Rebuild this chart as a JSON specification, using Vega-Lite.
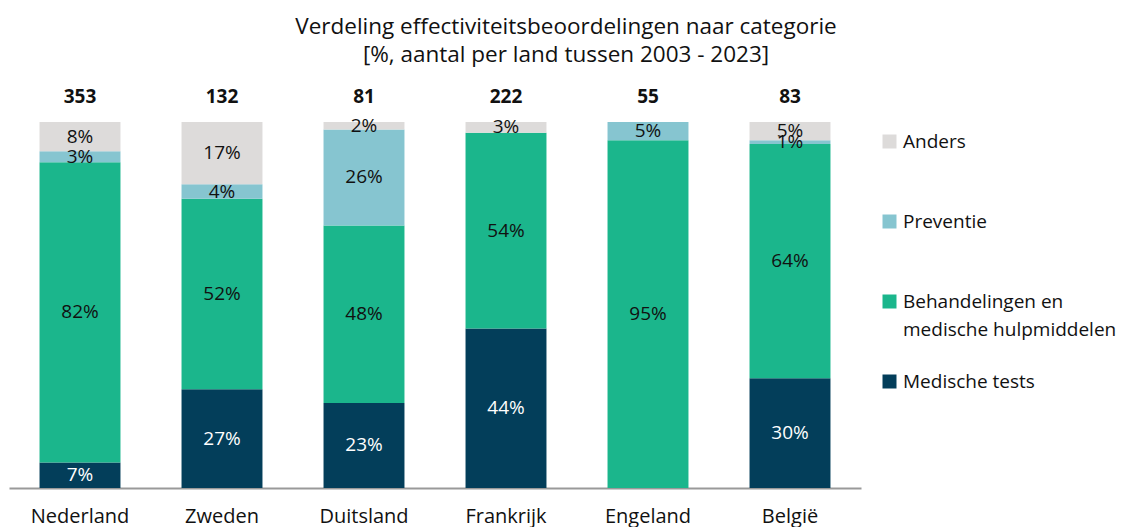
{
  "$schema": "https://vega.github.io/schema/vega-lite/v6.json",
  "autosize": {"type": "none"},
  "width": 852,
  "height": 366,
  "padding": {"left": 9, "top": 122, "right": 277, "bottom": 39},
  "background": "white",
  "config": {
    "font": "Open Sans",
    "view": {"stroke": null}
  },
  "title": {
    "text": ["Verdeling effectiviteitsbeoordelingen naar categorie", "[%, aantal per land tussen 2003 - 2023]"],
    "fontSize": 22.5,
    "fontWeight": "normal",
    "color": "#111111",
    "lineHeight": 28,
    "offset": 22,
    "anchor": "middle",
    "dx": 131
  },
  "datasets": {
    "shares": [
      {"land": "Nederland", "categorie": "Medische tests", "orde": 1, "pct": 7},
      {"land": "Nederland", "categorie": "Behandelingen en medische hulpmiddelen", "orde": 2, "pct": 82},
      {"land": "Nederland", "categorie": "Preventie", "orde": 3, "pct": 3},
      {"land": "Nederland", "categorie": "Anders", "orde": 4, "pct": 8},
      {"land": "Zweden", "categorie": "Medische tests", "orde": 1, "pct": 27},
      {"land": "Zweden", "categorie": "Behandelingen en medische hulpmiddelen", "orde": 2, "pct": 52},
      {"land": "Zweden", "categorie": "Preventie", "orde": 3, "pct": 4},
      {"land": "Zweden", "categorie": "Anders", "orde": 4, "pct": 17},
      {"land": "Duitsland", "categorie": "Medische tests", "orde": 1, "pct": 23},
      {"land": "Duitsland", "categorie": "Behandelingen en medische hulpmiddelen", "orde": 2, "pct": 48},
      {"land": "Duitsland", "categorie": "Preventie", "orde": 3, "pct": 26},
      {"land": "Duitsland", "categorie": "Anders", "orde": 4, "pct": 2},
      {"land": "Frankrijk", "categorie": "Medische tests", "orde": 1, "pct": 44},
      {"land": "Frankrijk", "categorie": "Behandelingen en medische hulpmiddelen", "orde": 2, "pct": 54},
      {"land": "Frankrijk", "categorie": "Anders", "orde": 4, "pct": 3},
      {"land": "Engeland", "categorie": "Behandelingen en medische hulpmiddelen", "orde": 2, "pct": 95},
      {"land": "Engeland", "categorie": "Preventie", "orde": 3, "pct": 5},
      {"land": "België", "categorie": "Medische tests", "orde": 1, "pct": 30},
      {"land": "België", "categorie": "Behandelingen en medische hulpmiddelen", "orde": 2, "pct": 64},
      {"land": "België", "categorie": "Preventie", "orde": 3, "pct": 1},
      {"land": "België", "categorie": "Anders", "orde": 4, "pct": 5}
    ],
    "totals": [
      {"land": "Nederland", "aantal": 353},
      {"land": "Zweden", "aantal": 132},
      {"land": "Duitsland", "aantal": 81},
      {"land": "Frankrijk", "aantal": 222},
      {"land": "Engeland", "aantal": 55},
      {"land": "België", "aantal": 83}
    ]
  },
  "layer": [
    {
      "data": {"name": "shares"},
      "mark": {"type": "bar"},
      "encoding": {
        "x": {
          "field": "land", "type": "nominal",
          "sort": ["Nederland", "Zweden", "Duitsland", "Frankrijk", "Engeland", "België"],
          "scale": {"paddingInner": 0.43, "paddingOuter": 0.215},
          "axis": {
            "title": null, "labelAngle": 0, "labelFontSize": 20, "labelColor": "#111111",
            "ticks": false, "labelPadding": 18, "domainColor": "#999999", "domainWidth": 2
          }
        },
        "y": {
          "field": "pct", "type": "quantitative", "stack": "normalize",
          "scale": {"domain": [0, 1]},
          "axis": null
        },
        "order": {"field": "orde", "type": "quantitative", "sort": "ascending"},
        "color": {
          "field": "categorie", "type": "nominal",
          "scale": {
            "domain": ["Anders", "Preventie", "Behandelingen en medische hulpmiddelen", "Medische tests"],
            "range": ["#dddbda", "#86c5d0", "#1bb68c", "#033e5a"]
          },
          "legend": {
            "title": null,
            "orient": "none",
            "legendX": 871,
            "legendY": 10,
            "symbolType": "square",
            "symbolSize": 196,
            "symbolStrokeWidth": 0,
            "labelFontSize": 19,
            "labelColor": "#111111",
            "labelLimit": 300,
            "rowPadding": 32,
            "labelExpr": "datum.label == 'Behandelingen en medische hulpmiddelen' ? ['Behandelingen en', 'medische hulpmiddelen'] : [datum.label, '']",
            "encode": {"labels": {"update": {"lineHeight": {"value": 28}}}}
          }
        }
      }
    },
    {
      "data": {"name": "shares"},
      "transform": [{"calculate": "datum.pct + '%'", "as": "label"}],
      "mark": {"type": "text", "fontSize": 19},
      "encoding": {
        "x": {"field": "land", "type": "nominal", "sort": ["Nederland", "Zweden", "Duitsland", "Frankrijk", "Engeland", "België"]},
        "y": {"field": "pct", "type": "quantitative", "stack": "normalize", "bandPosition": 0.5},
        "order": {"field": "orde", "type": "quantitative", "sort": "ascending"},
        "text": {"field": "label", "type": "nominal"},
        "color": {
          "condition": {"test": "datum.categorie == 'Medische tests'", "value": "#ffffff"},
          "value": "#111111"
        }
      }
    },
    {
      "data": {"name": "totals"},
      "mark": {"type": "text", "fontSize": 19, "fontWeight": "bold", "dy": -25, "color": "#111111"},
      "encoding": {
        "x": {"field": "land", "type": "nominal", "sort": ["Nederland", "Zweden", "Duitsland", "Frankrijk", "Engeland", "België"]},
        "y": {"datum": 1, "type": "quantitative"},
        "text": {"field": "aantal", "type": "quantitative"}
      }
    }
  ]
}
